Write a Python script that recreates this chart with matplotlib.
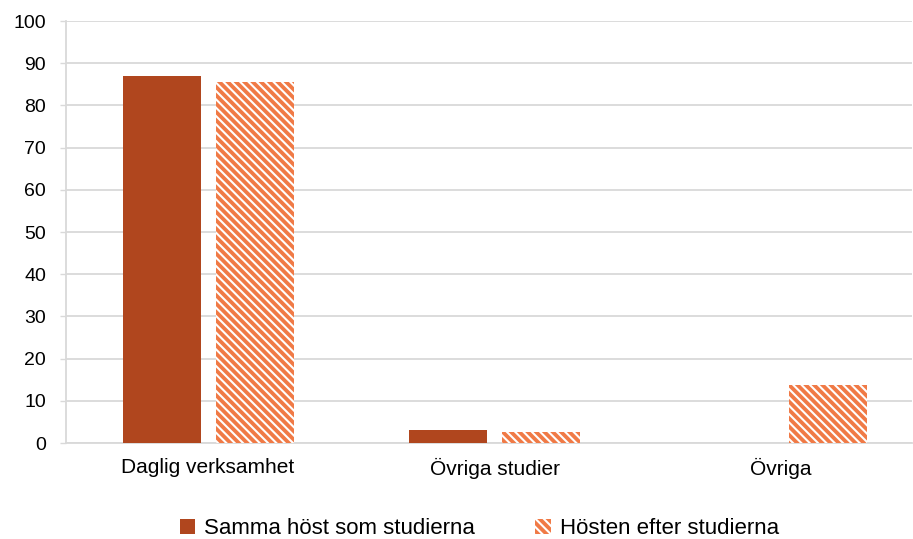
import matplotlib
matplotlib.use('Agg')
import matplotlib.pyplot as plt
from matplotlib.patches import Patch
import numpy as np

categories = ['Daglig verksamhet', 'Övriga studier', 'Övriga']
samma_host = [87.0, 3.1, 0.0]
hosten_efter = [85.6, 2.6, 13.7]
series_names = ['Samma höst som studierna', 'Hösten efter studierna']

dark = '#B0461E'
light = '#F07A46'

plt.rcParams['font.family'] = ['Liberation Sans', 'DejaVu Sans']
plt.rcParams['hatch.color'] = 'white'
plt.rcParams['hatch.linewidth'] = 1.5

fig = plt.figure(figsize=(9.13, 5.39), dpi=100)
ax = fig.add_axes([0.0723, 0.178, 0.9267, 0.783])

x = np.arange(len(categories))
width = 0.272
ax.bar(x - 0.162, samma_host, width, color=dark, linewidth=0, zorder=3)
ax.bar(x + 0.162, hosten_efter, width, color=light, hatch='\\\\\\\\',
       edgecolor='white', linewidth=0, zorder=3)

ax.set_xlim(-0.496, 2.457)
ax.set_ylim(0, 100)
ax.set_yticks(range(0, 101, 10))
ax.set_xticks(x)
ax.set_xticklabels(categories, fontsize=15)
ax.tick_params(axis='y', labelsize=14, length=4.3, color='#D9D9D9', width=1, pad=10)
ax.tick_params(axis='x', length=0, pad=11)
ax.grid(axis='y', color='#D9D9D9', linewidth=1.3, zorder=0)

for s in ['top', 'right']:
    ax.spines[s].set_visible(False)
ax.spines['left'].set_color('#D9D9D9')
ax.spines['bottom'].set_color('#D9D9D9')
ax.spines['left'].set_linewidth(1.3)
ax.spines['bottom'].set_linewidth(1.3)

handles = [Patch(facecolor=dark, linewidth=0),
           Patch(facecolor=light, hatch='\\\\\\\\', edgecolor='white', linewidth=0)]
fig.legend(handles, series_names, loc='lower center', bbox_to_anchor=(0.525, -0.038),
           ncol=2, frameon=False, fontsize=16, handlelength=0.7, handleheight=0.7,
           handletextpad=0.4, columnspacing=2.7)

fig.savefig('out.png', dpi=100)
